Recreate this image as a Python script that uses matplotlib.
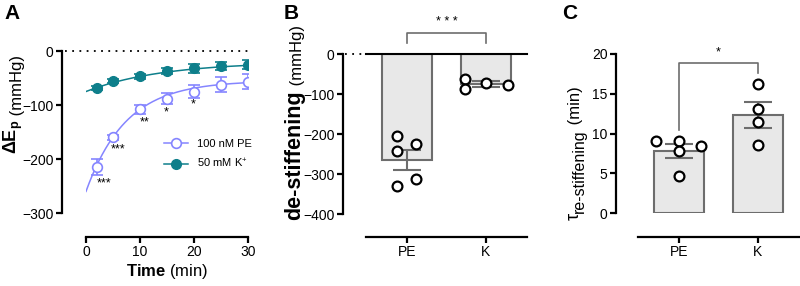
import numpy as np
import matplotlib
matplotlib.use("Agg")
import matplotlib.pyplot as plt

plt.rcParams["font.family"] = ["Liberation Sans", "DejaVu Sans"]
plt.rcParams["mathtext.fontset"] = "custom"
plt.rcParams["mathtext.rm"] = "Liberation Sans"
plt.rcParams["mathtext.it"] = "Liberation Sans:italic"
plt.rcParams["mathtext.bf"] = "Liberation Sans:bold"

# ---------------- data ----------------
time_min = [2, 5, 10, 15, 20, 25, 30]
pe_mean = [-215, -160, -108, -88, -75, -62, -57]
pe_sem = [15, 4, 8, 10, 12, 13, 14]
k_mean = [-68, -55, -47, -37, -32, -28, -25]
k_sem = [4, 4, 4, 5, 8, 8, 9]

# one-phase exponential fits (y0, plateau, rate)
pe_fit = (-260, -55, 0.135)
k_fit = (-75, -20, 0.071)

star_labels = ["***", "***", "**", "*", "*"]
star_x = [3.3, 5.9, 10.9, 14.8, 19.8]
star_y = [-246, -182, -132, -113, -98]

groups = ["PE", "K"]
destiff_pe = [-205, -225, -243, -312, -330]
destiff_k = [-62, -88, -72, -78]
destiff_mean = [-265, -75]
destiff_sem = [24, 7]

tau_pe = [9.0, 9.0, 7.8, 8.4, 4.7]
tau_k = [16.2, 13.1, 11.5, 8.6]
tau_mean = [7.8, 12.3]
tau_sem = [0.85, 1.6]

PE_COL = "#8585ff"
K_COL = "#0e7f8b"
BAR_FACE = "#e8e8e8"
BAR_EDGE = "#6d6d6d"

PX = 72 / 100  # points per pixel at 100 dpi

fig = plt.figure(figsize=(8, 2.86), dpi=100)


def style_axes(ax, left_px=24, bottom_px=24):
    for s in ["top", "right"]:
        ax.spines[s].set_visible(False)
    ax.spines["left"].set_position(("outward", left_px * PX))
    ax.spines["bottom"].set_position(("outward", bottom_px * PX))
    for s in ["left", "bottom"]:
        ax.spines[s].set_linewidth(1.6)
    ax.tick_params(width=1.6, length=4, labelsize=10, pad=2)


def chain_ylabel(ax, x, y, parts):
    # parts: (text, fontsize, weight, shift_px) drawn bottom to top, rotated
    prev = ax.text(x, y, parts[0][0], fontsize=parts[0][1], fontweight=parts[0][2],
                   rotation=90, ha="right", va="bottom", transform=ax.transAxes)
    for txt, size, weight, shift in parts[1:]:
        prev = ax.annotate(txt, xy=(1, 1), xycoords=prev, xytext=(shift * PX, 0),
                           textcoords="offset points", fontsize=size,
                           fontweight=weight, rotation=90, ha="right", va="bottom")


# ---------------- panel A ----------------
axA = fig.add_axes([0.1075, 0.2552, 0.2025, 0.5664])
style_axes(axA)
tt = np.linspace(0, 30, 200)
for (y0, plat, k), col in [(pe_fit, PE_COL), (k_fit, K_COL)]:
    axA.plot(tt, plat + (y0 - plat) * np.exp(-k * tt), color=col, lw=1.1, zorder=2)

axA.errorbar(time_min, pe_mean, yerr=pe_sem, fmt="o", ms=7, mfc="white",
             mec=PE_COL, mew=1.2, ecolor=PE_COL, elinewidth=1.2, capsize=4,
             capthick=1.2, zorder=3)
axA.errorbar(time_min, k_mean, yerr=k_sem, fmt="o", ms=7, mfc=K_COL,
             mec=K_COL, ecolor=K_COL, elinewidth=1.2, capsize=4,
             capthick=1.2, zorder=3)
axA.plot([-0.13, 1], [0, 0], transform=axA.get_yaxis_transform(),
         color="black", lw=1.3, ls=(0, (1, 3)), clip_on=False)

for s, x, y in zip(star_labels, star_x, star_y):
    axA.text(x, y, s, ha="center", va="center", fontsize=9)

h1 = axA.plot([], [], "-o", color=PE_COL, mfc="white", ms=7, mew=1.2, lw=1.1)[0]
h2 = axA.plot([], [], "-o", color=K_COL, ms=7, lw=1.1)[0]
axA.legend([h1, h2], ["100 nM PE", "50 mM K$^{+}$"], loc="center left",
           bbox_to_anchor=(0.42, 0.36), frameon=False, fontsize=8,
           handlelength=2.2, labelspacing=0.7, handletextpad=0.8)

axA.set_xlim(0, 30)
axA.set_ylim(-300, 0)
axA.set_xticks([0, 10, 20, 30])
axA.set_yticks([0, -100, -200, -300])
axA.set_xlabel(r"$\mathbf{Time}$ (min)", fontsize=12, labelpad=2)
chain_ylabel(axA, -0.377, 0.364,
             [(r"$\mathbf{\Delta E_p}$", 13, "bold", 0),
              (" (mmHg)", 12, "normal", 0)])

# ---------------- panel B ----------------
axB = fig.add_axes([0.4575, 0.2517, 0.20125, 0.5594])
style_axes(axB, 23, 23)
xpos = np.arange(len(groups))
axB.bar(xpos, destiff_mean, width=0.64, color=BAR_FACE, edgecolor=BAR_EDGE,
        lw=1.5, zorder=1)
axB.errorbar(xpos, destiff_mean, yerr=destiff_sem, fmt="none", ecolor=BAR_EDGE,
             elinewidth=1.5, capsize=10, capthick=1.5, zorder=2)
offs_pe = [-0.13, 0.11, -0.13, 0.11, -0.13]
offs_k = [-0.27, -0.27, 0.0, 0.28]
axB.scatter(xpos[0] + np.array(offs_pe), destiff_pe, s=50, facecolor="white",
            edgecolor="black", lw=1.6, zorder=3)
axB.scatter(xpos[1] + np.array(offs_k), destiff_k, s=50, facecolor="white",
            edgecolor="black", lw=1.6, zorder=3)
axB.plot([0, 1], [0, 0], transform=axB.get_yaxis_transform(),
         color="black", lw=1.5, clip_on=False, zorder=4)
axB.plot([-0.13, 0], [0, 0], transform=axB.get_yaxis_transform(),
         color="black", lw=1.3, ls=(0, (1, 3)), clip_on=False)
axB.plot([0, 0, 1, 1], [27, 52, 52, 27], color=BAR_EDGE, lw=1.2, clip_on=False)
axB.text(0.5, 80, "* * *", ha="center", va="center", fontsize=9)
axB.set_xlim(-0.52, 1.52)
axB.set_ylim(-400, 0)
axB.set_xticks(xpos)
axB.set_xticklabels(groups)
axB.set_yticks([0, -100, -200, -300, -400])
chain_ylabel(axB, -0.379, -0.0375,
             [("de-stiffening", 15.5, "bold", 0),
              (" (mmHg)", 12, "normal", 0)])

# ---------------- panel C ----------------
axC = fig.add_axes([0.7975, 0.2552, 0.20125, 0.556])
style_axes(axC, 22, 24)
axC.bar(xpos, tau_mean, width=0.64, color=BAR_FACE, edgecolor=BAR_EDGE,
        lw=1.5, zorder=1)
axC.errorbar(xpos, tau_mean, yerr=tau_sem, fmt="none", ecolor=BAR_EDGE,
             elinewidth=1.5, capsize=10, capthick=1.5, zorder=2)
offs_pe = [-0.29, 0.0, 0.0, 0.28, 0.0]
offs_k = [0.0, 0.0, 0.0, 0.0]
axC.scatter(xpos[0] + np.array(offs_pe), tau_pe, s=50, facecolor="white",
            edgecolor="black", lw=1.6, zorder=3)
axC.scatter(xpos[1] + np.array(offs_k), tau_k, s=50, facecolor="white",
            edgecolor="black", lw=1.6, zorder=3)
axC.plot([0, 0, 1, 1], [10.4, 18.9, 18.9, 17.6], color=BAR_EDGE, lw=1.2,
         clip_on=False)
axC.text(0.5, 20.2, "*", ha="center", va="center", fontsize=9)
axC.set_xlim(-0.52, 1.52)
axC.set_ylim(0, 20)
axC.set_xticks(xpos)
axC.set_xticklabels(groups)
axC.set_yticks([0, 5, 10, 15, 20])
chain_ylabel(axC, -0.342, -0.044,
             [("\u03c4", 13, "normal", 0),
              ("re-stiffening", 11.5, "normal", 4),
              (" (min)", 12, "normal", -4)])

# panel letters
for x, lab in [(0.005, "A"), (0.354, "B"), (0.703, "C")]:
    fig.text(x, 0.985, lab, fontsize=15, fontweight="bold", va="top")

fig.savefig("out.png", dpi=100)
